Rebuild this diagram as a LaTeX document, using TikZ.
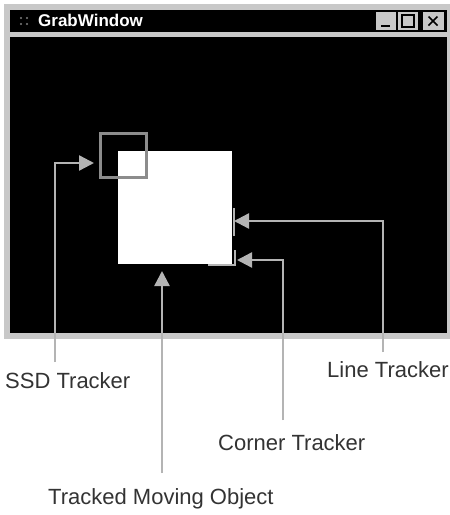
\documentclass[tikz,border=0pt]{standalone}
\usepackage{fontspec}
\setmainfont{Liberation Sans}
\usepackage{xcolor}
\definecolor{framegray}{HTML}{C8C8C8}
\definecolor{arrowgray}{HTML}{B4B4B4}
\definecolor{boxgray}{HTML}{8C8C8C}
\definecolor{textdark}{HTML}{333333}
\usetikzlibrary{arrows.meta, positioning, calc}

\begin{document}
\begin{tikzpicture}[
        x=1pt, y=-1pt,
        pointer/.style={
            draw=arrowgray,
            line width=2.4pt,
            -{Triangle[length=15pt, width=15pt]}
        },
        caption/.style={
            anchor=base west,
            inner sep=0pt,
            text=textdark,
            font=\fontsize{22}{26}\selectfont
        },
        winbutton/.style={
            rectangle,
            fill=framegray,
            draw=black,
            line width=0.6pt,
            minimum width=21pt,
            minimum height=19pt,
            inner sep=0pt
        },
        object/.style={
            rectangle,
            fill=white,
            inner sep=0pt,
            minimum width=114pt,
            minimum height=113pt
        },
        ssd_box/.style={
            rectangle,
            draw=boxgray,
            line width=2.2pt,
            inner sep=0pt,
            minimum width=46pt,
            minimum height=44pt
        },
        tracker_mark/.style={
            draw=arrowgray,
            line width=2pt
        }
    ]

    \useasboundingbox (0,0) rectangle (450,515);
    \fill[white] (0,0) rectangle (450,515);

    % Window frame
    \fill[framegray] (4,4) rectangle (450,339);
    \fill[black] (10,10) rectangle (447,32);
    \fill[black] (10,37) rectangle (447,333);

    % Title bar
    \foreach \dx/\dy in {21/18, 21/24, 27/18, 27/24}
        \fill[gray] (\dx,\dy) circle (1.1pt);
    \node[anchor=base west, inner sep=0pt, text=white, font=\bfseries\fontsize{17}{20}\selectfont] (title) at (38,26.5) {GrabWindow};
    \node[winbutton] (minbtn) at (386,21) {};
    \node[winbutton] (maxbtn) at (408,21) {};
    \node[winbutton, minimum width=22pt] (closebtn) at (433,21) {};
    \draw[black, line width=2pt] ($(minbtn.center)+(-5,5)$) -- ($(minbtn.center)+(4,5)$);
    \draw[black, line width=1.4pt] ($(maxbtn.center)+(-6,-6)$) rectangle ($(maxbtn.center)+(6,6)$);
    \draw[black, line width=1.6pt] ($(closebtn.center)+(-4.5,-4.5)$) -- ($(closebtn.center)+(4.5,4.5)$);
    \draw[black, line width=1.6pt] ($(closebtn.center)+(-4.5,4.5)$) -- ($(closebtn.center)+(4.5,-4.5)$);

    % Tracked object and trackers
    \node[object] (target) at (175,207.5) {};
    \node[ssd_box] (ssd) at (123.5,155.5) {};
    \draw[tracker_mark] (233.5,208) -- (233.5,236);
    \draw[tracker_mark] (208,265) -- (234.5,265) -- (234.5,250);

    % Labels
    \node[caption] (ssdlabel) at (5,388) {SSD Tracker};
    \node[caption] (linelabel) at (327,377) {Line Tracker};
    \node[caption] (cornerlabel) at (218,450) {Corner Tracker};
    \node[caption] (objlabel) at (48,504) {Tracked Moving Object};

    % Pointer ends
    \coordinate (ssdfoot) at (55,362);
    \coordinate (ssdtip) at (94,163);
    \coordinate (linefoot) at (383,352);
    \coordinate (linetip) at (234,221);
    \coordinate (cornerfoot) at (283,420);
    \coordinate (cornertip) at (237,260);
    \coordinate (objfoot) at (162,473);
    \coordinate (objtip) at (162,271);

    % Pointers
    \draw[pointer] (ssdfoot) |- (ssdtip);
    \draw[pointer] (linefoot) |- (linetip);
    \draw[pointer] (cornerfoot) |- (cornertip);
    \draw[pointer] (objfoot) -- (objtip);

\end{tikzpicture}
\end{document}
